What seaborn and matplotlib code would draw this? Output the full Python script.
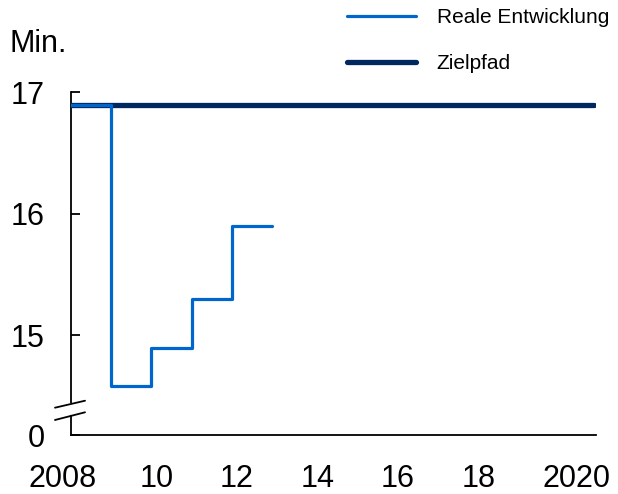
import matplotlib
matplotlib.use("Agg")
import matplotlib.pyplot as plt
import matplotlib.transforms as mtransforms
import seaborn as sns
import pandas as pd

# Annual values (minutes); the real series holds each value for a full year
real_years = [2008, 2009, 2010, 2011, 2012, 2013]
real_values = [16.9, 14.58, 14.9, 15.3, 15.9, 15.9]
target_years = [2008, 2021]
target_values = [16.9, 16.9]

y_ticks = [14.18, 15, 16, 17]
y_labels = ["0", "15", "16", "17"]
x_ticks = [2008, 2010, 2012, 2014, 2016, 2018, 2020]
x_labels = ["2008", "10", "12", "14", "16", "18", "2020"]

label_real = "Reale Entwicklung"
label_target = "Zielpfad"
unit_label = "Min."

sns.set_style("white")
plt.rcParams["font.family"] = ["Liberation Sans", "DejaVu Sans"]
plt.rcParams["text.color"] = "black"

real_df = pd.DataFrame({"Jahr": real_years, "Wert": real_values})
target_df = pd.DataFrame({"Jahr": target_years, "Wert": target_values})

fig = plt.figure(figsize=(6.18, 4.94), dpi=100)
ax = fig.add_axes([71 / 618, 1 - 435 / 494, 525 / 618, 342.5 / 494])

sns.lineplot(data=target_df, x="Jahr", y="Wert", ax=ax, color="#00285E",
             linewidth=3.8, label=label_target, zorder=3)
sns.lineplot(data=real_df, x="Jahr", y="Wert", ax=ax, color="#0066CC",
             linewidth=2.3, drawstyle="steps-post", label=label_real, zorder=4)

ax.set_xlim(2008, 2021.05)
ax.set_ylim(14.18, 17)
ax.set_xlabel("")
ax.set_ylabel("")

ax.set_yticks(y_ticks)
ax.set_yticklabels(y_labels)
ax.set_xticks(x_ticks)
ax.set_xticklabels(x_labels)

ax.tick_params(axis="y", left=True, direction="in", length=6.5, width=1.3,
               color="black", labelsize=22, pad=19, labelcolor="black")
ax.tick_params(axis="x", bottom=True, length=0, labelsize=22, pad=21,
               labelcolor="black")

# shift the x labels slightly, the outer four-digit years a bit further
offsets_px = [-8, 5, 5, 5, 5, 5, 23]
for lab, dx in zip(ax.get_xticklabels(), offsets_px):
    lab.set_transform(lab.get_transform() +
                      mtransforms.ScaledTranslation(dx / 100, 0, fig.dpi_scale_trans))

for side in ("top", "right"):
    ax.spines[side].set_visible(False)
for side in ("left", "bottom"):
    ax.spines[side].set_color("black")
    ax.spines[side].set_linewidth(1.3)

# axis break on the y axis
ax.plot([0, 0], [0.063, 0.088], transform=ax.transAxes, color="white",
        linewidth=3, clip_on=False, zorder=5)
for y0, y1 in [(0.0797, 0.1001), (0.0438, 0.0663)]:
    ax.plot([-0.0305, 0.0267], [y0, y1], transform=ax.transAxes, color="black",
            linewidth=1.3, clip_on=False, zorder=6)

fig.text(10 / 618, 1 - 52 / 494, unit_label, fontsize=22, va="baseline",
         ha="left", color="black")

handles, labels = ax.get_legend_handles_labels()
order = [labels.index(label_real), labels.index(label_target)]
ax.legend([handles[i] for i in order], [labels[i] for i in order],
          loc="upper left", bbox_to_anchor=(347 / 618, 1 - 8 / 494),
          bbox_transform=fig.transFigure, frameon=False, fontsize=15,
          handlelength=3.3, handletextpad=1.0, labelspacing=1.3,
          borderpad=0, borderaxespad=0, labelcolor="black")

fig.savefig("out.png", dpi=100)
